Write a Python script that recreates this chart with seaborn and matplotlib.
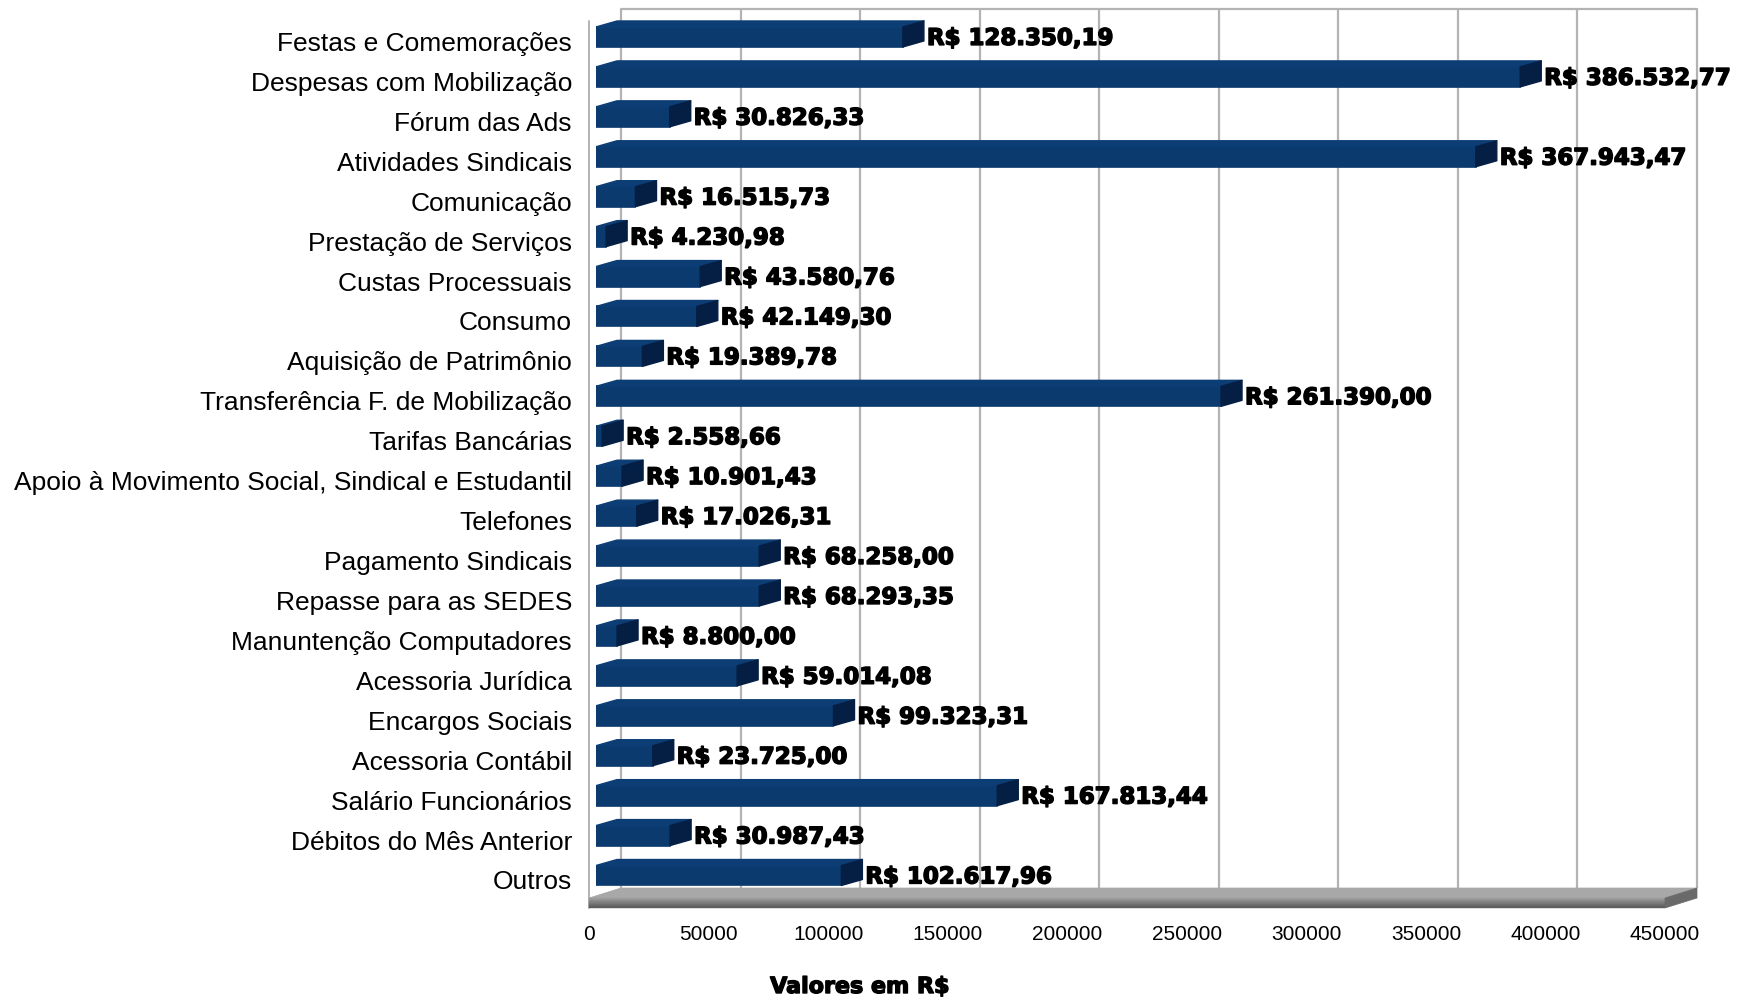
import matplotlib
matplotlib.use("Agg")
import matplotlib.pyplot as plt
import matplotlib.transforms as mtransforms
import matplotlib.patheffects as pe
from matplotlib.patches import Polygon
import seaborn as sns
import numpy as np
import pandas as pd

# ---------------- data ----------------
categories = [
    "Festas e Comemorações",
    "Despesas com Mobilização",
    "Fórum das Ads",
    "Atividades Sindicais",
    "Comunicação",
    "Prestação de Serviços",
    "Custas Processuais",
    "Consumo",
    "Aquisição de Patrimônio",
    "Transferência F. de Mobilização",
    "Tarifas Bancárias",
    "Apoio à Movimento Social, Sindical e Estudantil",
    "Telefones",
    "Pagamento Sindicais",
    "Repasse para as SEDES",
    "Manuntenção Computadores",
    "Acessoria Jurídica",
    "Encargos Sociais",
    "Acessoria Contábil",
    "Salário Funcionários",
    "Débitos do Mês Anterior",
    "Outros",
]
values = [
    128350.19, 386532.77, 30826.33, 367943.47, 16515.73, 4230.98,
    43580.76, 42149.30, 19389.78, 261390.00, 2558.66, 10901.43,
    17026.31, 68258.00, 68293.35, 8800.00, 59014.08, 99323.31,
    23725.00, 167813.44, 30987.43, 102617.96,
]
x_ticks = [0, 50000, 100000, 150000, 200000, 250000, 300000, 350000, 400000, 450000]
x_label = "Valores em R$"


def brl(v):
    s = f"{v:,.2f}".replace(",", "X").replace(".", ",").replace("X", ".")
    return "R$ " + s


# ---------------- style ----------------
sns.set_theme(style="white")
plt.rcParams['font.family'] = ['Liberation Sans', 'DejaVu Sans']

W, H = 1742, 998
fig = plt.figure(figsize=(W / 100, H / 100), dpi=100)
fig.patch.set_facecolor("white")

# axes = plane of the bars' front faces (pixels from top-left)
ax_l, ax_r, ax_t, ax_b = 596, 1672, 17, 898
ax = fig.add_axes([ax_l / W, (H - ax_b) / H, (ax_r - ax_l) / W, (ax_b - ax_t) / H])

BAR = "#0a3a6e"
df = pd.DataFrame({"categoria": categories, "valor": values})
sns.barplot(data=df, y="categoria", x="valor", orient="h", color=BAR,
            saturation=1, width=0.5, ax=ax, edgecolor=BAR, linewidth=1.2,
            zorder=3)

ax.set_xlim(0, 450000)
ax.set_ylim(len(categories) - 1 + 0.5635, -0.5)
for s in ax.spines.values():
    s.set_visible(False)
ax.grid(False)
ax.set_facecolor("none")
ax.set_xlabel("")
ax.set_ylabel("")
ax.set_xticks(x_ticks)
ax.set_xticklabels([str(t) for t in x_ticks])
ax.tick_params(axis="x", length=0, pad=19.5, labelsize=15, colors="black")
ax.tick_params(axis="y", length=0, pad=17.3, labelsize=19, colors="black")

# shift tick labels to match perspective
for lab in ax.get_xticklabels():
    lab.set_transform(lab.get_transform() + mtransforms.ScaledTranslation(-0.07, 0, fig.dpi_scale_trans))
for lab in ax.get_yticklabels():
    lab.set_transform(lab.get_transform() + mtransforms.ScaledTranslation(0, -0.045, fig.dpi_scale_trans))

fig.canvas.draw()


def pxd(dx, dy):
    """pixel offset (x right, y up) -> data offset"""
    inv = ax.transData.inverted()
    o = ax.transData.transform((0, 0))
    p = inv.transform(o + np.array([dx, dy]))
    q = inv.transform(o)
    return p[0] - q[0], p[1] - q[1]


ymin_top = -0.5  # data y at ax top
ybot = len(categories) - 1 + 0.5635

# back wall
bdx, _ = pxd(25, 0)
_, dy_top = pxd(0, 8)      # back wall top
_, dy_bot = pxd(0, 10)     # floor back edge
y_back_top = ymin_top + dy_top
y_back_bot = ybot + dy_bot
for t in x_ticks:
    ax.plot([t + bdx, t + bdx], [y_back_top, y_back_bot], color="#b3b3b3", lw=1.6,
            zorder=1, clip_on=False, solid_capstyle="butt")
ax.plot([x_ticks[0] + bdx, x_ticks[-1] + bdx], [y_back_top, y_back_top], color="#b3b3b3",
        lw=1.6, zorder=1, clip_on=False)

# left wall line (front plane)
fdx, _ = pxd(-7, 0)
_, dy_wall_top = pxd(0, -4)
_, dy_down10 = pxd(0, -10)   # 10 px down
ax.plot([fdx, fdx], [ymin_top + dy_wall_top, ybot + dy_down10], color="#b3b3b3", lw=1.4,
        zorder=1, clip_on=False)

# floor slab
x_front0 = x_ticks[0] + fdx
x_front1 = x_ticks[-1] + fdx
x_back0 = x_ticks[0] + bdx
x_back1 = x_ticks[-1] + bdx
ax.add_patch(Polygon([(x_back0, y_back_bot), (x_back1, y_back_bot), (x_front1, ybot), (x_front0, ybot)],
                     closed=True, facecolor="#a8a8a8", edgecolor="#a8a8a8", lw=0.5, zorder=2,
                     clip_on=False))
nstrip = 12
dstrip = dy_down10 / nstrip
c0 = np.array([0.62, 0.62, 0.62])
c1 = np.array([0.36, 0.36, 0.36])
for k in range(nstrip):
    f = k / (nstrip - 1)
    col = c0 * (1 - f) + c1 * f
    ya = ybot + k * dstrip
    yb = ybot + (k + 1) * dstrip
    ax.add_patch(Polygon([(x_front0, ya), (x_front1, ya), (x_front1, yb), (x_front0, yb)],
                         closed=True, facecolor=col, edgecolor=col, lw=0.3, zorder=2, clip_on=False))
ax.add_patch(Polygon([(x_front1, ybot), (x_back1, y_back_bot), (x_back1, y_back_bot + dy_down10),
                      (x_front1, ybot + dy_down10)],
                     closed=True, facecolor="#6a6a6a", edgecolor="#6a6a6a", lw=0.5, zorder=2,
                     clip_on=False))

# 3D faces of bars
ddx, ddy = pxd(21, 6)
lab_dx, _ = pxd(3, 0)
_, lab_dy = pxd(0, -2)
stroke = [pe.withStroke(linewidth=1.1, foreground="black")]
for p, v in zip(ax.patches[:len(values)], values):
    x0, y0, w, h = p.get_x(), p.get_y(), p.get_width(), p.get_height()
    top = Polygon([(x0, y0), (x0 + w, y0), (x0 + w + ddx, y0 + ddy), (x0 + ddx, y0 + ddy)],
                  closed=True, facecolor="#0c3d74", edgecolor="#0c3d74", lw=1.0,
                  joinstyle="round", zorder=3)
    side = Polygon([(x0 + w, y0), (x0 + w, y0 + h), (x0 + w + ddx, y0 + h + ddy), (x0 + w + ddx, y0 + ddy)],
                   closed=True, facecolor="#051f44", edgecolor="#051f44", lw=1.0,
                   joinstyle="round", zorder=3)
    ax.add_patch(top)
    ax.add_patch(side)
    ax.text(x0 + w + ddx + lab_dx, y0 + h / 2 + ddy * 0.1 + lab_dy, brl(v), ha="left", va="center",
            fontsize=16.5, fontweight="bold", family="DejaVu Sans", color="black", zorder=5,
            clip_on=False, path_effects=stroke)

fig.text(860 / W, 1 - 987 / H, x_label, ha="center", va="center", fontsize=16,
         fontweight="bold", family="DejaVu Sans", color="black",
         path_effects=[pe.withStroke(linewidth=1.0, foreground="black")])

fig.savefig("out.png", dpi=100, facecolor="white")
